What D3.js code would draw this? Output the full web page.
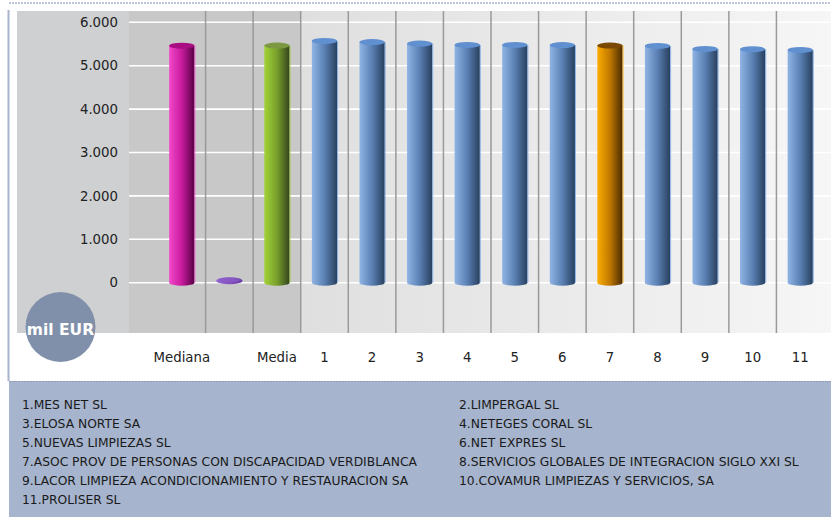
<!DOCTYPE html>
<html><head><meta charset="utf-8">
<script src="https://cdn.jsdelivr.net/npm/d3@7"></script>
<style>
html,body{margin:0;padding:0;background:#fff;}
svg{display:block;font-family:"DejaVu Sans",Verdana,sans-serif;}
</style></head>
<body>
<svg id="c" width="831" height="517"></svg>
<script>
const categories = ["Mediana","","Media","1","2","3","4","5","6","7","8","9","10","11"];
const values = [5460, 45, 5465, 5570, 5545, 5510, 5478, 5478, 5475, 5465, 5455, 5385, 5380, 5362];
const kinds = ["mediana","empresa","media","blue","blue","blue","blue","blue","blue","orange","blue","blue","blue","blue"];
const yTicks = [0,1000,2000,3000,4000,5000,6000];
const unitLabel = "mil EUR";
const legendItems = [
 "1.MES NET SL","2.LIMPERGAL SL",
 "3.ELOSA NORTE SA","4.NETEGES CORAL SL",
 "5.NUEVAS LIMPIEZAS SL","6.NET EXPRES SL",
 "7.ASOC PROV DE PERSONAS CON DISCAPACIDAD VERDIBLANCA","8.SERVICIOS GLOBALES DE INTEGRACION SIGLO XXI SL",
 "9.LACOR LIMPIEZA ACONDICIONAMIENTO Y RESTAURACION SA","10.COVAMUR LIMPIEZAS Y SERVICIOS, SA",
 "11.PROLISER SL"
];

const palette = {
  mediana:{l:"#f248cc", m:"#c81a9c", r:"#560044", top:"#a80e82", edge:"#ff50d8"},
  empresa:{l:"#9466d0", m:"#8552c2", r:"#6a3ea6", top:"#8a5cc8", edge:"#9a6ad4"},
  media:{l:"#a2d236", m:"#78a02c", r:"#34441e", top:"#7c9840", edge:"#a2d236"},
  blue:{l:"#8fb4e4", m:"#5a80b4", r:"#28405e", top:"#6090d0", edge:"#7aaae8"},
  orange:{l:"#fbac00", m:"#c07800", r:"#4a2a00", top:"#7a4800", edge:"#ffb000"}
};

const svg = d3.select("#c");
const defs = svg.append("defs");
Object.entries(palette).forEach(([k,p])=>{
  const g = defs.append("linearGradient").attr("id","g_"+k).attr("x1","0").attr("x2","1").attr("y1","0").attr("y2","0");
  g.append("stop").attr("offset","0%").attr("stop-color",p.l);
  g.append("stop").attr("offset","50%").attr("stop-color",p.m);
  g.append("stop").attr("offset","100%").attr("stop-color",p.r);
});
const bgG = defs.append("linearGradient").attr("id","bgG").attr("x1","0").attr("x2","1");
bgG.append("stop").attr("offset","0%").attr("stop-color","#dfdfdf");
bgG.append("stop").attr("offset","100%").attr("stop-color","#f6f6f6");

// frame
svg.append("line").attr("x1",8.5).attr("x2",8.5).attr("y1",10).attr("y2",381).attr("stroke","#a8b4cc").attr("stroke-width",2);
svg.append("line").attr("x1",9).attr("x2",831).attr("y1",3).attr("y2",3).attr("stroke","#a8b4cc").attr("stroke-width",1.5).attr("stroke-dasharray","2,1");

// legend panel
svg.append("rect").attr("x",9).attr("y",381).attr("width",822).attr("height",136).attr("fill","#a6b4cd");
svg.append("line").attr("x1",9).attr("x2",831).attr("y1",381.5).attr("y2",381.5).attr("stroke","#8e9cb8").attr("stroke-width",1).attr("stroke-dasharray","2,1");

const y = d3.scaleLinear().domain([0,6000]).range([282.7,22.3]);
const x = d3.scaleBand().domain(categories.map((c,i)=>i)).range([158,824]).paddingInner(0).paddingOuter(0);
const plotTop = 11, plotBottom = 333, plotLeft = 129, plotRight = 831;

// backgrounds
svg.append("rect").attr("x",17).attr("y",plotTop).attr("width",plotLeft-17).attr("height",plotBottom-plotTop).attr("fill","#cfd0d2");
const splitX = x(3);
svg.append("rect").attr("x",plotLeft).attr("y",plotTop).attr("width",splitX-plotLeft).attr("height",plotBottom-plotTop).attr("fill","#c8c8c8");
svg.append("rect").attr("x",splitX).attr("y",plotTop).attr("width",plotRight-splitX).attr("height",plotBottom-plotTop).attr("fill","url(#bgG)");

// horizontal grid
svg.append("g").selectAll("line").data(yTicks).join("line")
  .attr("x1",plotLeft).attr("x2",plotRight)
  .attr("y1",d=>y(d)).attr("y2",d=>y(d))
  .attr("stroke","#ffffff").attr("stroke-width",1.6);

// vertical separators
svg.append("g").selectAll("line").data(d3.range(1,categories.length)).join("line")
  .attr("x1",d=>x(d)).attr("x2",d=>x(d))
  .attr("y1",plotTop).attr("y2",plotBottom)
  .attr("stroke","#9a9a9a").attr("stroke-width",1.5);

// y axis
const fmt = d3.formatLocale({decimal:",",thousands:".",grouping:[3],currency:["","€"]}).format(",d");
const yAxis = d3.axisLeft(y).tickValues(yTicks).tickFormat(fmt).tickSize(0).tickPadding(0);
const ya = svg.append("g").attr("transform","translate(118,0)").call(yAxis);
ya.select(".domain").remove();
ya.selectAll("text").attr("font-size",13.3).attr("fill","#222").attr("font-family","DejaVu Sans, Verdana, sans-serif");

// x axis labels
const xAxis = d3.axisBottom(x).tickFormat(i=>categories[i]).tickSize(0).tickPadding(0);
const xa = svg.append("g").attr("transform","translate(0,353)").call(xAxis);
xa.select(".domain").remove();
xa.selectAll("text").attr("font-size",13.3).attr("fill","#222").attr("font-family","DejaVu Sans, Verdana, sans-serif");

// cylinders
const bw = x.bandwidth()*0.53;
const ry = 3;
const bars = svg.append("g").selectAll("g").data(values.map((v,i)=>({v,i,k:kinds[i]}))).join("g");
bars.each(function(d){
  const g = d3.select(this);
  const cx = x(d.i)+x.bandwidth()/2;
  const y0 = y(0), y1 = y(d.v);
  const p = palette[d.k];
  const h = y0-y1;
  if (h > 2*ry) {
    g.append("path")
      .attr("d",`M${cx-bw/2},${y1} L${cx-bw/2},${y0} A${bw/2},${ry} 0 0 0 ${cx+bw/2},${y0} L${cx+bw/2},${y1} Z`)
      .attr("fill","url(#g_"+d.k+")");
    g.append("line").attr("x1",cx+bw/2+0.5).attr("x2",cx+bw/2+0.5).attr("y1",y1).attr("y2",y0)
      .attr("stroke",p.edge).attr("stroke-width",1).attr("opacity",0.8);
    g.append("ellipse").attr("cx",cx).attr("cy",y1).attr("rx",bw/2).attr("ry",ry).attr("fill",p.top);
  } else {
    g.append("ellipse").attr("cx",cx).attr("cy",y1).attr("rx",bw/2+0.5).attr("ry",3.6).attr("fill","url(#g_"+d.k+")");
    g.append("ellipse").attr("cx",cx).attr("cy",y1-0.8).attr("rx",bw/2-2).attr("ry",2.2).attr("fill",p.top).attr("opacity",0.7);
  }
});

// unit circle
svg.append("circle").attr("cx",60.5).attr("cy",327).attr("r",35).attr("fill","#8190aa");
svg.append("text").attr("x",60.5).attr("y",334.5).attr("text-anchor","middle").attr("font-size",15.5).attr("font-weight","bold").attr("fill","#fff").text(unitLabel);

// legend
const lg = svg.append("g");
lg.selectAll("text").data(legendItems).join("text")
  .attr("x",(d,i)=> i%2===0 ? 22 : 459)
  .attr("y",(d,i)=> 408.5 + Math.floor(i/2)*19)
  .attr("font-size",12.3).attr("fill","#1a1a1a")
  .text(d=>d);
</script>
</body></html>
